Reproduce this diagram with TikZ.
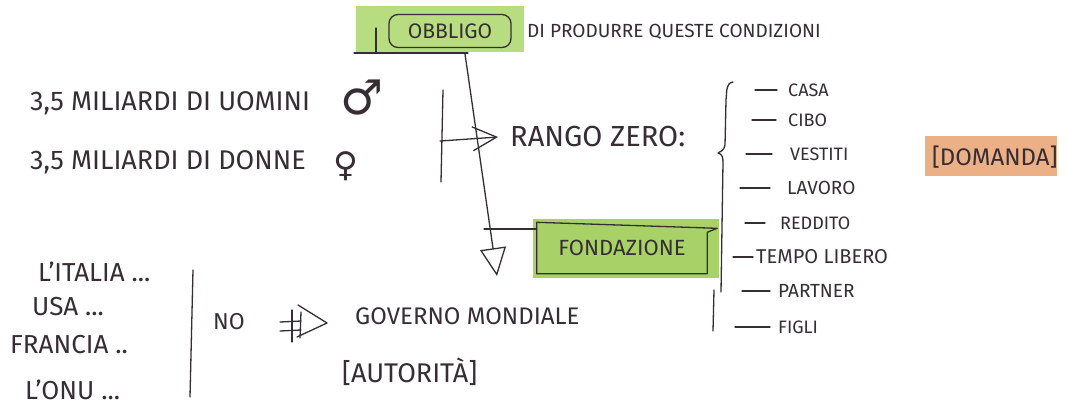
\documentclass[tikz,border=0pt]{standalone}
\usepackage{fontspec}
\setmainfont{Fira Sans}
\newfontfamily\symfont{DejaVu Sans}
\usetikzlibrary{arrows.meta}
\definecolor{ink}{RGB}{55,45,52}
\definecolor{hlgreen}{RGB}{184,221,128}
\definecolor{boxgreen}{RGB}{168,210,104}
\definecolor{hlorange}{RGB}{236,176,134}
\begin{document}
\begin{tikzpicture}[x=1pt,y=-1pt,
  pen/.style={draw=ink, line width=1.3pt, line cap=round, line join=round},
  hand/.style={text=ink, inner sep=0pt, anchor=west, font=\fontsize{26}{30}\selectfont},
  small/.style={hand, font=\fontsize{19}{22}\selectfont},
  item/.style={hand, font=\fontsize{18}{21}\selectfont},
]
\useasboundingbox (0,0) rectangle (1067,408);
\fill[white] (0,0) rectangle (1067,408);

% OBBLIGO
\fill[hlgreen] (356,6) rectangle (524,52);
\node[pen, rounded corners=9pt, minimum width=122, minimum height=33, text=ink,
      font=\fontsize{21}{24}\selectfont, inner sep=2pt] (obb) at (450,31) {OBBLIGO};
\draw[pen] (354,53) -- (468,53);
\draw[pen] (376,28) -- (376,53);
\node[small] (cond) at (527,32) {DI PRODURRE QUESTE CONDIZIONI};

% vertical arrow
\coordinate (vstart) at (465,54);
\coordinate (vtip) at (497,276);
\draw[pen, -{Triangle[open,length=28,width=26]}] (vstart) -- (vtip);

% men / women
\node[hand, font=\fontsize{27}{30}\selectfont] (men) at (30,103) {3,5 MILIARDI DI UOMINI};
\node[text=ink, inner sep=0pt, anchor=west, font=\symfont\fontsize{48}{52}\selectfont] (mars) at (340,98) {♂};
\node[hand, font=\fontsize{27}{30}\selectfont] (women) at (30,162) {3,5 MILIARDI DI DONNE};
\node[text=ink, inner sep=0pt, anchor=west, font=\symfont\fontsize{34}{38}\selectfont] (venus) at (333,166) {♀};

% bracket and arrow to RANGO ZERO
\draw[pen] (443,90) -- (441,182);
\node[hand, font=\fontsize{29}{32}\selectfont] (rango) at (510,137) {RANGO ZERO:};
\coordinate (rstart) at (440,141);
\draw[pen, -{Straight Barb[length=24,width=24]}] (rstart) -- ([xshift=-12]rango.west);

% FONDAZIONE
\fill[boxgreen] (533,219) rectangle (719,278);
\node[inner sep=0pt, minimum width=170, minimum height=51, text=ink,
      font=\fontsize{22}{26}\selectfont] (fond) at (622,248) {FONDAZIONE};
\draw[pen] (fond.north west) -- ([xshift=10,yshift=-6]fond.north east) -- ([yshift=-10]fond.north east)
           -- (fond.south east) -- (fond.south west) -- cycle;
\coordinate (fj) at (484,229);
\draw[pen] (fj) -- (fond.west |- fj);

% right brace
\draw[pen] (733,82) .. controls (726,83) and (727,90) .. (726,100) -- (725,145)
  .. controls (724,150) and (721,152) .. (718,153)
  .. controls (722,154) and (723,157) .. (723,162) -- (721,292);
\draw[pen] (714,290) -- (713,331);

% list
\node[item] (casa) at (788,90) {CASA};
\node[item] (cibo) at (788,120) {CIBO};
\node[item] (vest) at (790,154) {VESTITI};
\node[item, font=\fontsize{19}{22}\selectfont] (lav) at (787,188) {LAVORO};
\node[item] (red) at (780,223) {REDDITO};
\node[item, font=\fontsize{20}{23}\selectfont] (temp) at (756,257) {TEMPO LIBERO};
\node[item, font=\fontsize{19}{22}\selectfont] (part) at (778,291) {PARTNER};
\node[item] (figl) at (778,327) {FIGLI};
\draw[pen] ([xshift=-33]casa.west) -- ([xshift=-11]casa.west);
\draw[pen] ([xshift=-36]cibo.west) -- ([xshift=-12]cibo.west);
\draw[pen] ([xshift=-44]vest.west) -- ([xshift=-18]vest.west);
\draw[pen] ([xshift=-47]lav.west) -- ([xshift=-17]lav.west);
\draw[pen] ([xshift=-35]red.west) -- ([xshift=-15]red.west);
\draw[pen] ([xshift=-23]temp.west) -- ([xshift=-3]temp.west);
\draw[pen] ([xshift=-36]part.west) -- ([xshift=-8]part.west);
\draw[pen] ([xshift=-43]figl.west) -- ([xshift=-8]figl.west);

% DOMANDA
\fill[hlorange] (925,136) rectangle (1057,176);
\node[hand, font=\fontsize{24}{28}\selectfont] (dom) at (932,157) {[DOMANDA]};

% left list
\node[hand] (ita) at (38,272) {L'ITALIA ...};
\node[hand] (usa) at (32,307) {USA ...};
\node[hand] (fra) at (10,345) {FRANCIA ..};
\node[hand] (onu) at (25,390) {L'ONU ...};
\draw[pen] (193,270) -- (190,397);
\node[hand, font=\fontsize{23}{26}\selectfont] (no) at (213,322) {NO};

% crossed arrow
\draw[pen] (280,322) -- (301,321);
\draw[pen] (280,331) -- (301,330);
\draw[pen] (292,310) -- (292,342);
\draw[pen] (301,312) -- (300,338);
\draw[pen] (298,305) -- (327,323) -- (297,337);

% governo
\node[hand, font=\fontsize{24}{28}\selectfont] (gov) at (355,316) {GOVERNO MONDIALE};
\node[hand, font=\fontsize{27}{30}\selectfont] (aut) at (342,372) {[AUTORITÀ]};
\end{tikzpicture}
\end{document}
